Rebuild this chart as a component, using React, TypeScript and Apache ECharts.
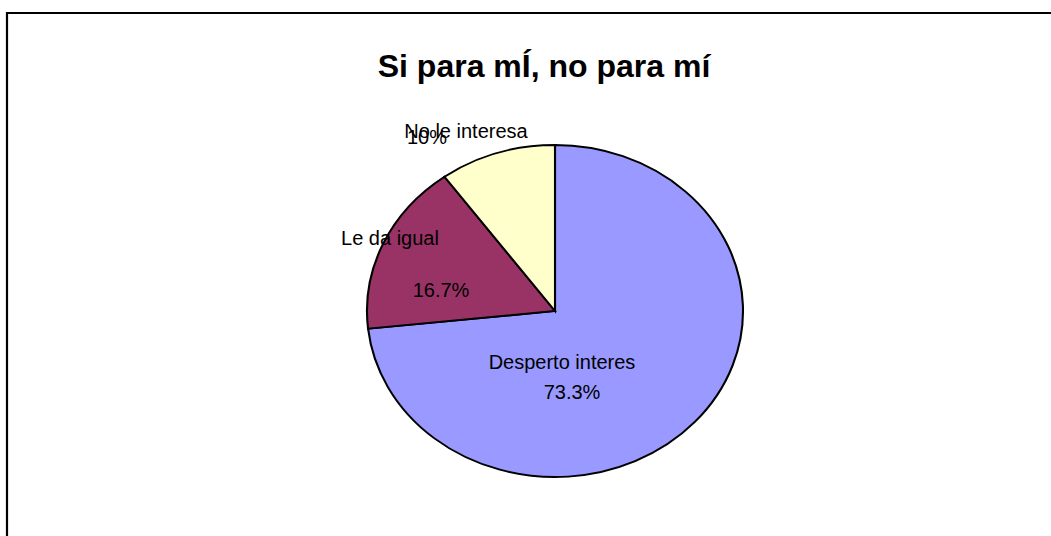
import React, { useEffect, useRef } from "react";
import * as echarts from "echarts";

const categories = ["Desperto interes", "Le da igual", "No le interesa"];
const values = [73.3, 16.7, 10];
const colors = ["#9999FF", "#993366", "#FFFFCC"];
const titleText = "Si para mÍ, no para mí";

// label layout offsets relative to pie centre (name, percent)
const labelLayout = [
  { name: [7, 51], pct: [17, 81] },
  { name: [-165, -73], pct: [-114, -21] },
  { name: [-89, -180], pct: [-128, -174] },
];

const CX = 555;
const CY = 311;
const RX = 188;
const RY = 166;

export default function App() {
  const ref = useRef<HTMLDivElement>(null);
  useEffect(() => {
    document.body.style.margin = "0";
    const chart = echarts.init(ref.current!, null, { renderer: "svg" });
    const total = values.reduce((a, b) => a + b, 0);
    let acc = 0;
    const data = values.map((v, i) => {
      const start = acc;
      acc += v;
      return { name: categories[i], value: [start, acc, v, i] };
    });
    chart.setOption({
      animation: false,
      backgroundColor: "#ffffff",
      graphic: [
        {
          type: "rect",
          shape: { x: 7, y: 13, width: 1200, height: 700 },
          style: { fill: "none", stroke: "#000", lineWidth: 2.2 },
          silent: true,
        },
        {
          type: "text",
          x: 544,
          y: 66,
          style: {
            text: titleText,
            font: "bold 32px 'Liberation Sans', Arial, sans-serif",
            fill: "#000",
            align: "center",
            verticalAlign: "middle",
          },
        },
      ],
      series: [
        {
          type: "custom",
          coordinateSystem: "none",
          data,
          renderItem: (params: any, api: any) => {
            const s = api.value(0) / total;
            const e = api.value(1) / total;
            const v = api.value(2);
            const i = api.value(3);
            const lay = labelLayout[i];
            const pctText = (Math.round(v * 10) / 10).toString() + "%";
            return {
              type: "group",
              children: [
                {
                  type: "sector",
                  x: CX,
                  y: CY,
                  scaleY: RY / RX,
                  shape: {
                    cx: 0,
                    cy: 0,
                    r0: 0,
                    r: RX,
                    startAngle: -Math.PI / 2 + 2 * Math.PI * s,
                    endAngle: -Math.PI / 2 + 2 * Math.PI * e,
                    clockwise: true,
                  },
                  style: { fill: colors[i], stroke: "#000", lineWidth: 2.1 },
                },
                {
                  type: "text",
                  x: CX + lay.name[0],
                  y: CY + lay.name[1],
                  style: {
                    text: categories[i],
                    font: "20px 'Liberation Sans', Arial, sans-serif",
                    fill: "#000",
                    align: "center",
                    verticalAlign: "middle",
                  },
                },
                {
                  type: "text",
                  x: CX + lay.pct[0],
                  y: CY + lay.pct[1],
                  style: {
                    text: pctText,
                    font: "20px 'Liberation Sans', Arial, sans-serif",
                    fill: "#000",
                    align: "center",
                    verticalAlign: "middle",
                  },
                },
              ],
            };
          },
        },
      ],
    });
    return () => chart.dispose();
  }, []);
  return (
    <div
      ref={ref}
      style={{ position: "absolute", left: 0, top: 0, width: 1051, height: 536 }}
    />
  );
}
